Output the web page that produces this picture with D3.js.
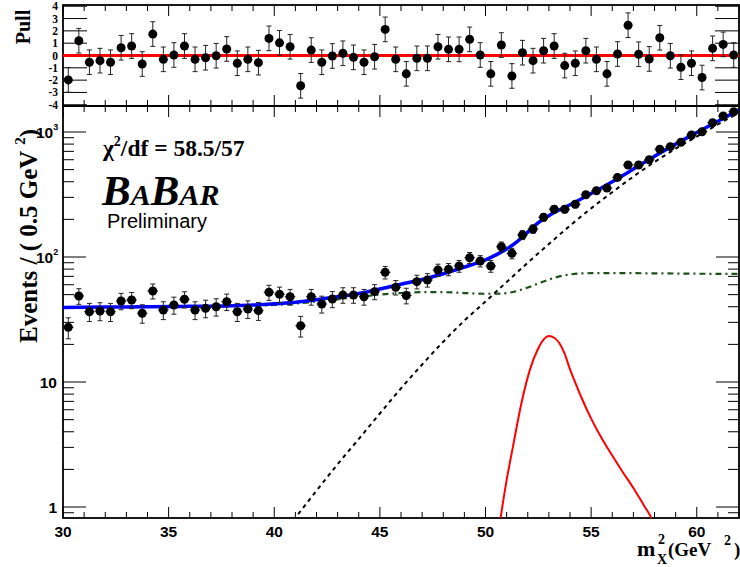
<!DOCTYPE html>
<html><head><meta charset="utf-8">
<script src="https://cdn.jsdelivr.net/npm/d3@7"></script>
<style>body{margin:0;background:#fff} svg{display:block}</style>
</head><body><svg id="c" width="740" height="567"></svg>
<script>
// ---------------- data ----------------
const binCenters = [30.25,30.75,31.25,31.75,32.25,32.75,33.25,33.75,34.25,34.75,35.25,35.75,36.25,36.75,37.25,37.75,
  38.25,38.75,39.25,39.75,40.25,40.75,41.25,41.75,42.25,42.75,43.25,43.75,44.25,44.75,45.25,45.75,
  46.25,46.75,47.25,47.75,48.25,48.75,49.25,49.75,50.25,50.75,51.25,51.75,52.25,52.75,53.25,53.75,
  54.25,54.75,55.25,55.75,56.25,56.75,57.25,57.75,58.25,58.75,59.25,59.75,60.25,60.75,61.25,61.75];
const counts = [27.4,48.8,36.5,37.0,36.5,44.5,45.3,35.5,53.5,37.7,41.3,45.9,37.7,38.9,40.0,43.9,
  36.5,38.4,37.2,52.2,50.3,48.1,28.2,48.1,42.1,46.1,49.7,49.7,48.1,52.8,75.4,57.2,
  49.2,63.5,65.5,78.7,79.7,84.7,98.7,92.9,84.7,120.8,107,150,167.5,208,241,241,
  264,315,339,356,433,545,545,600,727,763,828,946,1005,1186,1343,1453];
const pulls = [-1.98,1.2,-0.55,-0.42,-0.55,0.63,0.77,-0.69,1.74,-0.31,0.04,0.77,-0.31,-0.18,-0.02,0.53,
  -0.63,-0.31,-0.58,1.39,1.03,0.71,-2.46,0.44,-0.55,-0.04,0.18,-0.15,-0.55,-0.1,2.12,-0.31,
  -1.49,-0.23,-0.23,0.71,0.5,0.5,1.31,0.04,-1.49,0.85,-1.66,0.23,-0.42,0.39,0.77,-0.82,
  -0.63,0.39,-0.31,-1.49,0.12,2.46,0.1,-0.28,1.44,-0.02,-0.95,-0.63,-1.79,0.58,0.9,0.04];

// total fit (blue)
const fitX = [30,32,34,36,38,39,40,41,42,43,44,45,46,47,48,49,50,50.5,51,51.5,52,52.5,53,53.5,54,54.5,55,55.5,56,57,58,59,60,61,62];
const fitY = [39.5,39.8,40,40.3,40.8,41.3,42.2,43.5,45.5,48,51,55.5,60.5,66,73.5,83,95,104,116,133,158,188,214,238,262,290,322,358,400,505,640,800,990,1220,1500];
// background 1 (black dashed)
const bkgAX = [40.9,42,43,44,45,46,47,48,49,50,51,52,53,54,55,56,57,58,59,60,61,62];
const bkgAY = [0.78,1.35,2.2,3.5,5.6,8.9,13.8,21,31,44,63,90,127,178,245,330,440,575,735,920,1150,1430];
// background 2 (green dash-dot)
const bkgBX = [30,32,34,36,38,40,42,44,45,46,47,48,49,50,50.5,51,51.5,52,52.5,53,53.5,54,54.5,55,56,58,60,62];
const bkgBY = [39.5,39.8,40,40.3,40.5,41.3,44,48,50,51.5,52.3,52.3,51.5,50.8,50.8,51.5,53.5,57,61.5,66,70,72.5,73.8,74.2,74.3,74,73.5,73.2];
// signal (red)
const sigX = [50.6,50.73,51.0,51.3,51.7,52.1,52.5,52.75,53.0,53.25,53.5,53.75,54.0,54.25,54.5,55.0,55.5,56.0,56.5,57.0,57.5,57.8,57.9];
const sigY = [0.6,0.85,1.64,3.04,6.76,12.5,18.6,21.8,23.3,22.6,20.4,16.8,12.6,9.9,7.8,5.1,3.55,2.58,1.9,1.42,1.03,0.85,0.78];

const xTickLabels = [30,35,40,45,50,55,60];
const pullTickLabels = [4,3,2,1,0,-1,-2,-3,-4];
const yDecades = [1,10,100,1000];

// ---------------- layout ----------------
const svg = d3.select('#c');
const L = 63, R = 739, mainTop = 106, mainBot = 518, pullTop = 5;
const x = d3.scaleLinear().domain([30,62]).range([L,R]);
const y = d3.scaleLog().domain([0.817,1614]).range([mainBot,mainTop]);
const yp = d3.scaleLinear().domain([-4.1,4.1]).range([mainTop,pullTop]);

const defs = svg.append('defs');
defs.append('clipPath').attr('id','clipMain').append('rect')
  .attr('x',L).attr('y',mainTop).attr('width',R-L).attr('height',mainBot-mainTop);
defs.append('clipPath').attr('id','clipPull').append('rect')
  .attr('x',L).attr('y',pullTop).attr('width',R-L).attr('height',mainTop-pullTop);

const sansB = '"Liberation Sans", Arial, Helvetica, sans-serif';
const serifB = '"Liberation Serif", "Times New Roman", serif';

// ---------------- ticks ----------------
const tickG = svg.append('g').attr('stroke','#000').attr('stroke-width',1);
function xTicks(yLine, dir){
  x.ticks(32).forEach(t=>{
    const major = t % 5 === 0;
    const len = major ? 11 : 6;
    tickG.append('line').attr('x1',x(t)).attr('x2',x(t)).attr('y1',yLine).attr('y2',yLine+dir*len);
  });
}
xTicks(mainBot,-1); xTicks(mainTop,1); xTicks(mainTop,-1); xTicks(pullTop,1);
y.ticks().forEach(t=>{
  const major = yDecades.includes(t);
  const len = major ? 23 : 11;
  tickG.append('line').attr('x1',L).attr('x2',L+len).attr('y1',y(t)).attr('y2',y(t));
  tickG.append('line').attr('x1',R).attr('x2',R-len).attr('y1',y(t)).attr('y2',y(t));
});
pullTickLabels.forEach(t=>{
  tickG.append('line').attr('x1',L).attr('x2',L+24).attr('y1',yp(t)).attr('y2',yp(t));
  tickG.append('line').attr('x1',R).attr('x2',R-24).attr('y1',yp(t)).attr('y2',yp(t));
});

// ---------------- frames ----------------
svg.append('rect').attr('x',L).attr('y',mainTop).attr('width',R-L).attr('height',mainBot-mainTop)
  .attr('fill','none').attr('stroke','#000').attr('stroke-width',1.8);
svg.append('rect').attr('x',L).attr('y',pullTop).attr('width',R-L).attr('height',mainTop-pullTop)
  .attr('fill','none').attr('stroke','#000').attr('stroke-width',1.8);

// ---------------- tick labels ----------------
svg.append('g').selectAll('text').data(xTickLabels).join('text')
  .attr('x',d=>x(d)).attr('y',537).attr('text-anchor','middle')
  .attr('font-family',sansB).attr('font-weight','bold').attr('font-size',15.5)
  .text(d=>d);
const yl = svg.append('g').attr('font-family',sansB).attr('font-weight','bold');
yDecades.forEach(d=>{
  const e = Math.round(Math.log10(d));
  const t = yl.append('text').attr('y',y(d)+6).attr('font-size',15.5);
  if(e===0){ t.attr('x',57).attr('text-anchor','end').text('1'); }
  else if(e===1){ t.attr('x',57).attr('text-anchor','end').text('10'); }
  else {
    t.attr('x',36).attr('text-anchor','start').text('10');
    t.append('tspan').attr('font-size',9).attr('dy',-8).text(e);
  }
});
svg.append('g').selectAll('text').data(pullTickLabels).join('text')
  .attr('x',58).attr('y',d=>yp(d)+4).attr('text-anchor','end')
  .attr('font-family',serifB).attr('font-weight','bold').attr('font-size',11.5)
  .text(d=>d);

// ---------------- curves ----------------
const line = d3.line().x(d=>x(d[0])).y(d=>y(d[1])).curve(d3.curveMonotoneX);
const mainG = svg.append('g').attr('clip-path','url(#clipMain)');
mainG.append('path').datum(d3.zip(bkgBX,bkgBY)).attr('d',line)
  .attr('fill','none').attr('stroke','#1b501b').attr('stroke-width',2.2).attr('stroke-dasharray','6,4,2,4');
mainG.append('path').datum(d3.zip(bkgAX,bkgAY)).attr('d',line)
  .attr('fill','none').attr('stroke','#000').attr('stroke-width',2).attr('stroke-dasharray','4,4');
mainG.append('path').datum(d3.zip(sigX,sigY)).attr('d',line)
  .attr('fill','none').attr('stroke','#ff0000').attr('stroke-width',2);

// data points
const pts = d3.zip(binCenters,counts);
const dG = mainG.append('g');
pts.forEach(([c,n])=>{
  const e = Math.sqrt(n);
  const y1 = y(n-e), y2 = y(n+e);
  dG.append('line').attr('x1',x(c)).attr('x2',x(c)).attr('y1',y1).attr('y2',y2).attr('stroke','#222').attr('stroke-width',1);
  dG.append('line').attr('x1',x(c)-2.5).attr('x2',x(c)+2.5).attr('y1',y1).attr('y2',y1).attr('stroke','#222');
  dG.append('line').attr('x1',x(c)-2.5).attr('x2',x(c)+2.5).attr('y1',y2).attr('y2',y2).attr('stroke','#222');
  dG.append('line').attr('x1',x(c-0.25)).attr('x2',x(c+0.25)).attr('y1',y(n)).attr('y2',y(n)).attr('stroke','#222');
});
mainG.append('path').datum(d3.zip(fitX,fitY)).attr('d',line)
  .attr('fill','none').attr('stroke','#0000ff').attr('stroke-width',3.5);
dG.raise();
dG.selectAll('circle').data(pts).join('circle')
  .attr('cx',d=>x(d[0])).attr('cy',d=>y(d[1])).attr('r',4.5).attr('fill','#000');

// pull panel
const pG = svg.append('g').attr('clip-path','url(#clipPull)');
pG.append('line').attr('x1',L).attr('x2',R).attr('y1',yp(0)).attr('y2',yp(0))
  .attr('stroke','#ff0000').attr('stroke-width',3);
d3.zip(binCenters,pulls).forEach(([c,p])=>{
  const y1 = yp(p-1), y2 = yp(p+1);
  pG.append('line').attr('x1',x(c)).attr('x2',x(c)).attr('y1',y1).attr('y2',y2).attr('stroke','#222');
  pG.append('line').attr('x1',x(c)-2.5).attr('x2',x(c)+2.5).attr('y1',y1).attr('y2',y1).attr('stroke','#222');
  pG.append('line').attr('x1',x(c)-2.5).attr('x2',x(c)+2.5).attr('y1',y2).attr('y2',y2).attr('stroke','#222');
  pG.append('circle').attr('cx',x(c)).attr('cy',yp(p)).attr('r',4.5).attr('fill','#000');
});

// ---------------- titles ----------------
const yt = svg.append('text').attr('transform','translate(37,236) rotate(-90)')
  .attr('text-anchor','middle').attr('font-family',serifB).attr('font-weight','bold').attr('font-size',25);
yt.append('tspan').text('Events / ( 0.5 GeV ');
yt.append('tspan').attr('font-size',15).attr('dy',-12).text(' 2');
yt.append('tspan').attr('dy',12).text(')');

svg.append('text').attr('transform','translate(30,27) rotate(-90)')
  .attr('text-anchor','middle').attr('font-family',serifB).attr('font-weight','bold').attr('font-size',20)
  .text('Pull');

const xt = svg.append('g').attr('font-family',serifB).attr('font-weight','bold');
xt.append('text').attr('x',637).attr('y',556).attr('font-size',22).text('m');
xt.append('text').attr('x',658).attr('y',544).attr('font-size',14).text('2');
xt.append('text').attr('x',657).attr('y',564).attr('font-size',14).text('X');
xt.append('text').attr('x',668).attr('y',556).attr('font-size',19).text('(GeV');
xt.append('text').attr('x',724).attr('y',545).attr('font-size',14).text('2');
xt.append('text').attr('x',734).attr('y',556).attr('font-size',19).text(')');

const chi = svg.append('text').attr('x',103).attr('y',156)
  .attr('font-family',serifB).attr('font-weight','bold').attr('font-size',23.5);
chi.append('tspan').text('χ');
chi.append('tspan').attr('font-size',14).attr('dy',-10).text('2');
chi.append('tspan').attr('dy',10).text('/df = 58.5/57');

const bb = svg.append('text').attr('x',102).attr('y',205)
  .attr('font-family',serifB).attr('font-weight','bold').attr('font-style','italic');
bb.append('tspan').attr('font-size',43).text('B');
bb.append('tspan').attr('font-size',30).text('A');
bb.append('tspan').attr('font-size',43).text('B');
bb.append('tspan').attr('font-size',30).text('AR');

svg.append('text').attr('x',107).attr('y',228)
  .attr('font-family',sansB).attr('font-size',20).text('Preliminary');
</script></body></html>
